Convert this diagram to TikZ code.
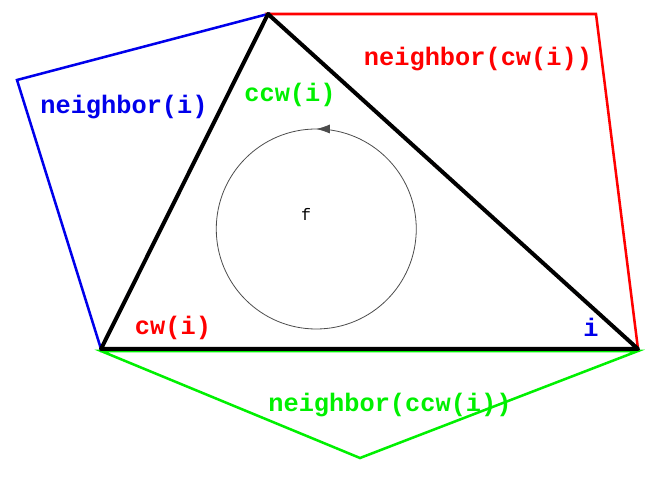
\documentclass[tikz,border=0pt]{standalone}
\usepackage{fontspec}
\setmonofont{Liberation Mono}
\usepackage{xcolor}
\usepackage{tikz}
\usetikzlibrary{arrows.meta, decorations.markings}
\definecolor{nbblue}{RGB}{0,0,235}
\definecolor{nbred}{RGB}{255,0,0}
\definecolor{nbgreen}{RGB}{0,240,0}
\tikzset{
  faceedge/.style={
    line width=3pt,
    black,
    line join=round
  },
  nbedge/.style={
    line width=1.9pt,
    line join=miter
  },
  namelabel/.style={
    font=\fontsize{19}{22}\ttfamily\bfseries,
    inner sep=0pt
  },
  facelabel/.style={
    font=\fontsize{12.5}{14}\ttfamily,
    inner sep=0pt
  },
  turncircle/.style={
    line width=0.6pt,
    black!70,
    postaction={decorate},
    decoration={markings,
      mark=at position 0.25 with {\arrow{Latex[length=3.6mm,width=2.4mm]}}}
  }
}

\begin{document}
\begin{tikzpicture}[x=0.75pt, y=-0.75pt]
  \useasboundingbox (0,0) rectangle (651,491);
  % vertices
  \coordinate (vtop) at (268,14);
  \coordinate (vleft) at (101,349);
  \coordinate (vright) at (638,349);
  \coordinate (nbi) at (17,80);
  \coordinate (nbcw) at (596,14);
  \coordinate (nbccw) at (360,458);
  \coordinate (gleft) at (101,351);
  \coordinate (gright) at (638,351);
  % neighbours
  \draw[nbedge, nbblue] (vleft) -- (nbi) -- (vtop) -- cycle;
  \draw[nbedge, nbred] (vtop) -- (nbcw) -- (vright) -- cycle;
  \draw[nbedge, nbgreen] (gleft) -- (nbccw) -- (gright) -- cycle;
  % face f
  \draw[faceedge] (vleft) -- (vtop) -- (vright) -- cycle;
  \node[circle, minimum size=200*0.75pt, inner sep=0pt] (turn) at (316,229) {};
  \draw[turncircle] (turn.east) arc[start angle=0, end angle=-360, radius=100];
  % labels
  \node[facelabel] (f) at (306,214) {f};
  \node[namelabel, text=nbblue] (lbnbi) at (124,107) {neighbor(i)};
  \node[namelabel, text=nbgreen] (lbccw) at (290,95) {ccw(i)};
  \node[namelabel, text=nbred] (lbnbcw) at (478,59) {neighbor(cw(i))};
  \node[namelabel, text=nbred] (lbcw) at (173,328) {cw(i)};
  \node[namelabel, text=nbblue] (lbi) at (591,327) {i};
  \node[namelabel, text=nbgreen] (lbnbccw) at (390,405) {neighbor(ccw(i))};
\end{tikzpicture}
\end{document}
